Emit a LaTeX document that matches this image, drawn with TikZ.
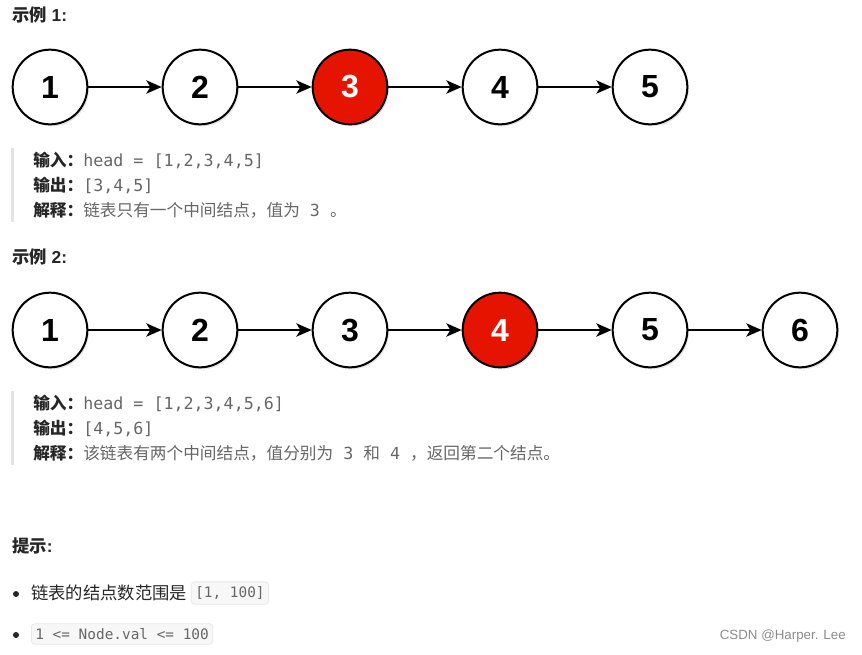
\documentclass[tikz,border=0pt]{standalone}
\usepackage{fontspec}
\setmainfont{Liberation Sans}
\setmonofont{DejaVu Sans Mono}
\newfontfamily\cjk{Noto Sans CJK SC}
\usetikzlibrary{positioning}
\usetikzlibrary{arrows.meta}
\usetikzlibrary{shadows}
\definecolor{nodered}{HTML}{E51400}
\definecolor{labelgray}{HTML}{262626}
\definecolor{textgray}{HTML}{666666}
\definecolor{quotebar}{HTML}{E3E3E3}
\definecolor{codebg}{HTML}{F7F7F7}
\definecolor{codeline}{HTML}{E8E8E8}
\tikzset{listnode/.style={circle,draw=black,line width=1.5pt,fill=white,minimum size=56pt,inner sep=0pt,
		font=\fontsize{24}{24}\selectfont\bfseries,drop shadow={shadow xshift=1.2pt,shadow yshift=-1.5pt,opacity=0.2}}}
\tikzset{midnode/.style={listnode,fill=nodered,text=white}}
\tikzset{link/.style={-{Stealth[length=11.5pt,width=10pt,inset=3pt]},line width=1.5pt}}
\tikzset{heading/.style={anchor=west,inner sep=0pt,text=labelgray,font=\fontsize{13}{15}\selectfont\bfseries}}
\tikzset{infoline/.style={anchor=west,inner sep=0pt,text=textgray,font=\fontsize{12.5}{15}\selectfont}}
\tikzset{tipline/.style={anchor=west,inner sep=0pt,text=black!85,font=\fontsize{13}{15}\selectfont}}
\tikzset{tipdot/.style={circle,fill=black!85,inner sep=0pt,minimum size=4.5pt}}
\tikzset{codebox/.style={anchor=west,draw=codeline,fill=codebg,rounded corners=2.5pt,line width=0.6pt,
		inner xsep=3pt,inner ysep=3.5pt,text=textgray,font=\fontsize{10.8}{13}\selectfont\ttfamily}}
\newcommand\lbl[1]{{\cjk\bfseries\color{labelgray}#1}}
\newcommand\tcode[1]{{\ttfamily\ #1\ }}

\begin{document}
\begin{tikzpicture}[x=0.75pt,y=-0.75pt]
		\useasboundingbox (0,0) rectangle (862,654);
		% example 1
		\node[heading] (title1) at (12,15) {{\cjk 示例} 1:};
		\begin{scope}
			\node[listnode] (a1) at (50,87) {1};
			\node[listnode] (a2) at (200,87) {2};
			\node[midnode] (a3) at (350,87) {3};
			\node[listnode] (a4) at (500,87) {4};
			\node[listnode] (a5) at (650,87) {5};
			\draw[link] (a1) -- (a2);
			\draw[link] (a2) -- (a3);
			\draw[link] (a3) -- (a4);
			\draw[link] (a4) -- (a5);
		\end{scope}
		\fill[quotebar] (11,148) rectangle (14,222);
		\node[infoline] (in1) at (33,160) {\lbl{输入：}\ttfamily head = [1,2,3,4,5]};
		\node[infoline] (out1) at (33,185) {\lbl{输出：}\ttfamily [3,4,5]};
		\node[infoline] (why1) at (33,210) {\lbl{解释：}{\cjk 链表只有一个中间结点，值为}\tcode{3}{\cjk 。}};
		% example 2
		\node[heading] (title2) at (12,257) {{\cjk 示例} 2:};
		\begin{scope}
			\node[listnode] (b1) at (50,330) {1};
			\node[listnode] (b2) at (200,330) {2};
			\node[listnode] (b3) at (350,330) {3};
			\node[midnode] (b4) at (500,330) {4};
			\node[listnode] (b5) at (650,330) {5};
			\node[listnode] (b6) at (800,330) {6};
			\draw[link] (b1) -- (b2);
			\draw[link] (b2) -- (b3);
			\draw[link] (b3) -- (b4);
			\draw[link] (b4) -- (b5);
			\draw[link] (b5) -- (b6);
		\end{scope}
		\fill[quotebar] (11,391) rectangle (14,465);
		\node[infoline] (in2) at (33,403) {\lbl{输入：}\ttfamily head = [1,2,3,4,5,6]};
		\node[infoline] (out2) at (33,428) {\lbl{输出：}\ttfamily [4,5,6]};
		\node[infoline] (why2) at (33,453) {\lbl{解释：}{\cjk 该链表有两个中间结点，值分别为}\tcode{3}{\cjk 和}\tcode{4}{\cjk ，返回第二个结点。}};
		% hints
		\node[heading] (title3) at (12,546) {{\cjk 提示}:};
		\node[tipdot] (dot1) at (16,594) {};
		\node[tipline] (tip1) at (31,593) {\cjk 链表的结点数范围是};
		\node[codebox,right=2.5pt of tip1] (code1) {[1, 100]};
		\node[tipdot] (dot2) at (16,635) {};
		\node[codebox] (code2) at (31,634) {1 <= Node.val <= 100};
		\node[anchor=east,inner sep=0pt,text=black!45,font=\fontsize{10}{12}\selectfont] (mark) at (846,636) {CSDN @Harper. Lee};
	\end{tikzpicture}
\end{document}
